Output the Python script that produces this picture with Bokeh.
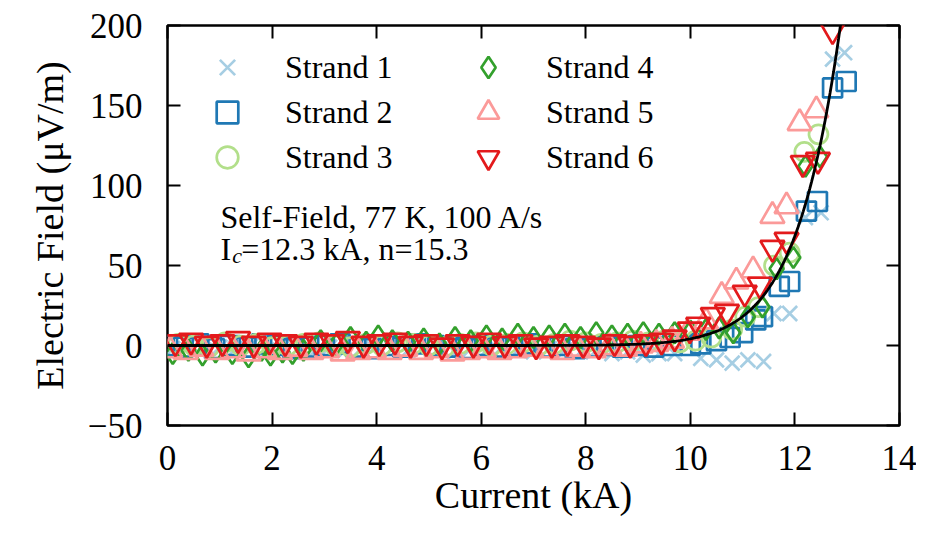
import numpy as np
from bokeh.plotting import figure
from bokeh.models import (Range1d, LinearAxis, SingleIntervalTicker, Legend,
                          LegendItem, Label)
from bokeh.embed import file_html
from bokeh.resources import INLINE

FONT = "Liberation Serif"

# ---------------- data ----------------
S1_I = [0.1, 0.4, 0.7, 1.0, 1.3, 1.6, 1.9, 2.2, 2.5, 2.8, 3.1, 3.4, 3.7, 4.0, 4.3, 4.6,
        4.9, 5.2, 5.5, 5.8, 6.1, 6.4, 6.7, 7.0, 7.3, 7.6, 7.9, 8.2, 8.5, 8.8, 9.1, 9.4,
        9.7, 10.2, 10.5, 10.8, 11.1, 11.4, 11.6, 11.9, 12.2, 12.5, 12.72, 12.95]
S1_E = [-2, 0, -3, -1, -2, 0, -3, -1, -2, -4, -1, -3, -2, 0, -2, -3,
        -1, -2, -4, -2, -3, -1, -3, -4, -2, -3, -4, -3, -5, -4, -6, -5,
        -5, -8, -9, -11, -9, -10, 20, 20, 80, 83, 179, 183]

S2_I = [0.0, 0.3, 0.6, 0.9, 1.2, 1.5, 1.8, 2.1, 2.4, 2.7, 3.0, 3.3, 3.6, 3.9, 4.2, 4.5,
        4.8, 5.1, 5.4, 5.7, 6.0, 6.3, 6.6, 6.9, 7.2, 7.5, 7.8, 8.1, 8.4, 8.7, 9.0, 9.3,
        9.65, 10.0, 10.2, 10.5, 10.76, 11.0, 11.25, 11.38, 11.7, 11.9, 12.22, 12.43, 12.72, 12.98]
S2_E = [0, -1, 1, -2, 0, -1, 1, 0, -2, -1, 0, 1, -1, -2, 0, -1,
        1, 0, -1, -2, 0, -1, 0, 1, -1, 0, -2, -1, 0, -1, 0, -1,
        0, 0, 1, 3, 5, 8, 16, 18, 37, 40, 84, 90, 161, 165]

S3_I = [0.2, 0.5, 0.8, 1.1, 1.4, 1.7, 2.0, 2.3, 2.6, 2.9, 3.2, 3.5, 3.8, 4.1, 4.4, 4.7,
        5.0, 5.3, 5.6, 5.9, 6.2, 6.5, 6.8, 7.1, 7.4, 7.7, 8.0, 8.3, 8.6, 8.9, 9.2, 9.5,
        9.8, 10.1, 10.4, 10.8, 11.05, 11.3, 11.6, 11.9, 12.18, 12.45]
S3_E = [1, 0, -1, 2, 0, 1, -1, 0, 1, 2, 0, -1, 1, 0, 2, 1,
        0, -1, 1, 2, 0, 1, 2, 0, 1, 3, 2, 1, 2, 3, 2, 3,
        2, 3, 5, 10, 18, 24, 50, 58, 121, 132]

S4_I = [0.1, 0.4, 0.67, 0.92, 1.24, 1.55, 1.8, 1.97, 2.2, 2.39, 2.6,
        2.93, 3.23, 3.5, 3.8, 4.03, 4.3, 4.6, 4.9, 5.2, 5.5, 5.8, 6.1, 6.4, 6.7, 7.0,
        7.3, 7.6, 7.9, 8.2, 8.5, 8.8, 9.1, 9.4, 9.7,
        10.0, 10.3, 10.55, 10.82, 11.1, 11.38, 11.65, 11.97, 12.2, 12.48]
S4_E = [-5, -3, -6, -4, -5, -7, -3, -6, -4, -5, -3,
        3, 1, 5, 2, 6, 3, 2, 4, 1, 5, 3, 6, 4, 7, 5,
        6, 7, 5, 8, 6, 7, 8, 7, 8,
        9, 10, 11, 8, 18, 24, 48, 55, 112, 118]

S5_I = [0.05, 0.35, 0.65, 0.95, 1.25, 1.55, 1.85, 2.15, 2.45, 2.75, 3.05, 3.35, 3.65, 3.95,
        4.25, 4.55, 4.85, 5.15, 5.45, 5.75, 6.05, 6.35, 6.65, 6.95, 7.25, 7.55, 7.85, 8.15,
        8.45, 8.75, 9.05, 9.35,
        9.65, 9.95, 10.3, 10.6, 10.88, 11.2, 11.57, 11.84, 12.09, 12.41]
S5_E = [-3, -4, -2, -4, -3, -5, -3, -4, -2, -4, -3, -5, -4, -3,
        -4, -2, -4, -3, -5, -4, -3, -4, -3, -2, -3, -4, -2, -3,
        -1, -2, 0, 1,
        3, 8, 15, 31, 40, 47, 81, 87, 139, 147]

S6_I = [0.15, 0.45, 0.75, 1.05, 1.35, 1.65, 1.95, 2.25, 2.55, 2.85, 3.15, 3.45, 3.75, 4.05,
        4.35, 4.65, 4.95, 5.25, 5.55, 5.85, 6.15, 6.45, 6.75, 7.05, 7.35, 7.65, 7.95, 8.25,
        8.55, 8.85, 9.15, 9.45,
        9.7, 9.99, 10.15, 10.43, 10.7, 11.04, 11.33, 11.57, 11.84, 12.15, 12.44, 12.72]
S6_E = [2, 3, 1, 2, 4, 1, 3, 2, 1, 3, 2, 4, 1, 2,
        3, 1, 2, 0, 2, 1, 3, 1, 2, 0, 1, 2, 1, 0,
        2, 1, 2, 3,
        5, 10, 13, 19, 21, 33, 38, 61, 66, 114, 116, 197]

LABELS = ["Strand 1", "Strand 2", "Strand 3", "Strand 4", "Strand 5", "Strand 6"]
COLORS = ["#a6cee3", "#1f78b4", "#b2df8a", "#33a02c", "#fb9a99", "#e31a1c"]
MARKERS = ["x", "square", "circle", "diamond", "triangle", "inverted_triangle"]
SIZES = [21, 19, 19, 21, 24, 24]

# power-law fit parameters shown on the chart
IC = 12.3      # kA
N_VAL = 15.3
EC = 100.0     # µV/m (1 µV/cm criterion)

X_TICKS_STEP = 2
Y_TICKS_STEP = 50

# ---------------- figure ----------------
p = figure(width=916, height=526, output_backend="svg", toolbar_location=None,
           x_range=Range1d(0, 14), y_range=Range1d(-50, 200),
           min_border_left=167, min_border_right=17, min_border_top=25,
           min_border_bottom=101)
p.xgrid.visible = False
p.ygrid.visible = False
p.outline_line_color = "black"
p.outline_line_width = 2.5
p.outline_line_alpha = 1.0
p.background_fill_color = "white"
p.border_fill_color = "white"


def style_axis(ax, show_labels, standoff):
    ax.axis_line_color = None
    ax.major_tick_in = 13
    ax.major_tick_out = 0
    ax.minor_tick_in = 0
    ax.minor_tick_out = 0
    ax.major_tick_line_width = 2
    ax.major_tick_line_color = "black"
    ax.major_label_text_font = FONT
    ax.major_label_standoff = standoff
    if show_labels:
        ax.major_label_text_font_size = "35px"
        ax.major_label_text_color = "black"
    else:
        ax.major_label_text_font_size = "1px"
        ax.major_label_text_color = None
        ax.major_label_text_alpha = 0.0


xb = p.xaxis[0]
xb.ticker = SingleIntervalTicker(interval=X_TICKS_STEP, num_minor_ticks=0)
style_axis(xb, True, 20)
xb.axis_label = "Current (kA)"
xb.axis_label_text_font = FONT
xb.axis_label_text_font_size = "38px"
xb.axis_label_text_font_style = "normal"
xb.axis_label_text_color = "black"
xb.axis_label_standoff = 1

yl = p.yaxis[0]
yl.ticker = SingleIntervalTicker(interval=Y_TICKS_STEP, num_minor_ticks=0)
style_axis(yl, True, 25)
yl.major_label_overrides = {-50: "\u221250"}
yl.axis_label = "Electric Field (\u03bcV/m)"
yl.axis_label_text_font = FONT
yl.axis_label_text_font_size = "38px"
yl.axis_label_text_font_style = "normal"
yl.axis_label_text_color = "black"
yl.axis_label_standoff = 14

xt = LinearAxis(ticker=SingleIntervalTicker(interval=X_TICKS_STEP, num_minor_ticks=0))
style_axis(xt, False, 0)
p.add_layout(xt, "above")
yr = LinearAxis(ticker=SingleIntervalTicker(interval=Y_TICKS_STEP, num_minor_ticks=0))
style_axis(yr, False, 0)
p.add_layout(yr, "right")

# ---------------- scatter series ----------------
series = [(S1_I, S1_E), (S2_I, S2_E), (S3_I, S3_E), (S4_I, S4_E), (S5_I, S5_E), (S6_I, S6_E)]
renderers = []
for (xs, ys), col, mk, sz in zip(series, COLORS, MARKERS, SIZES):
    r = p.scatter(x=xs, y=ys, marker=mk, size=sz, line_color=col, line_width=2.7,
                  fill_color=None)
    renderers.append(r)

# ---------------- fit line ----------------
I_fit = np.linspace(0.0, 12.9, 400)
E_fit = EC * (I_fit / IC) ** N_VAL
p.line(I_fit, E_fit, line_color="black", line_width=2.8)

# ---------------- legend: one single-item legend per entry (2 columns x 3 rows) ----
LEG_X = [33, 33, 33, 294, 294, 294]
LEG_Y = [331, 286, 241, 331, 286, 241]
for i in range(6):
    lg = Legend(items=[LegendItem(label=LABELS[i], renderers=[renderers[i]])],
                location=(LEG_X[i], LEG_Y[i]), orientation="vertical",
                border_line_color=None, background_fill_alpha=0.0,
                padding=0, margin=0, spacing=0,
                glyph_width=54, glyph_height=54, label_height=40,
                label_standoff=31, label_text_font=FONT,
                label_text_font_size="32px", label_text_color="black")
    p.add_layout(lg)

# ---------------- annotation ----------------
p.add_layout(Label(x=1.013, y=80.2, text="Self-Field, 77 K, 100 A/s",
                   text_font=FONT, text_font_size="32px", text_color="black",
                   text_baseline="alphabetic"))
p.add_layout(Label(x=1.013, y=60.4, text="I",
                   text_font=FONT, text_font_size="32px", text_color="black",
                   text_baseline="alphabetic"))
p.add_layout(Label(x=1.237, y=56.2, text="c", text_font_style="italic",
                   text_font=FONT, text_font_size="22px", text_color="black",
                   text_baseline="alphabetic"))
p.add_layout(Label(x=1.41, y=60.4, text="=12.3 kA, n=15.3",
                   text_font=FONT, text_font_size="32px", text_color="black",
                   text_baseline="alphabetic"))

open("out.html", "w").write(file_html(p, INLINE))
